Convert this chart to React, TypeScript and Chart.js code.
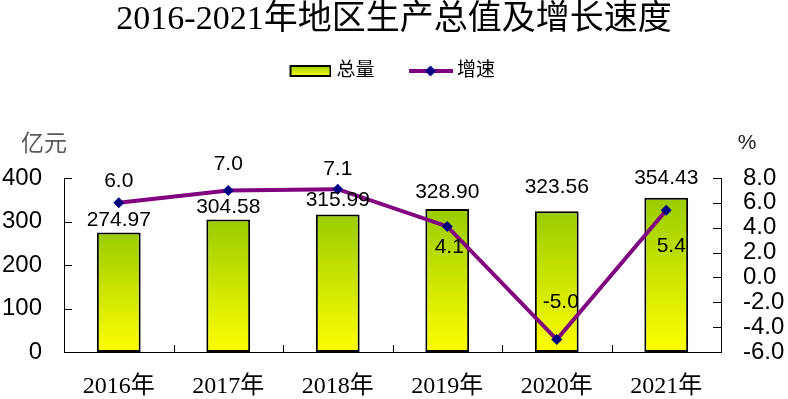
import React, { useEffect, useRef } from 'react';
import { Chart, registerables } from 'chart.js';

Chart.register(...registerables);

const titleText = '2016-2021年地区生产总值及增长速度';
const categories = ['2016年', '2017年', '2018年', '2019年', '2020年', '2021年'];
const totalValues = [274.97, 304.58, 315.99, 328.9, 323.56, 354.43];
const growthValues = [6.0, 7.0, 7.1, 4.1, -5.0, 5.4];
const seriesNames = ['总量', '增速'];
const leftUnit = '亿元';
const rightUnit = '%';
const leftTickValues = [0, 100, 200, 300, 400];
const rightTickValues = [-6, -4, -2, 0, 2, 4, 6, 8];

const CJK = '"Noto Sans CJK SC"';
const SERIF = `"Liberation Serif", ${CJK}, serif`;
const SANS = '"Liberation Sans", Arial, sans-serif';

function makeBarLegendImage() {
  const c = document.createElement('canvas');
  c.width = 43;
  c.height = 12;
  const g = c.getContext('2d')!;
  const grad = g.createLinearGradient(0, 0, 0, 12);
  grad.addColorStop(0, '#99CC00');
  grad.addColorStop(1, '#FFFF00');
  g.fillStyle = grad;
  g.fillRect(1, 0, 42, 12);
  g.strokeStyle = '#000';
  g.lineWidth = 2;
  g.strokeRect(2, 1, 40, 10);
  return c;
}

function makeLineLegendImage() {
  const c = document.createElement('canvas');
  c.width = 44;
  c.height = 12;
  const g = c.getContext('2d')!;
  g.strokeStyle = '#800080';
  g.lineWidth = 4;
  g.beginPath();
  g.moveTo(0, 6);
  g.lineTo(44, 6);
  g.stroke();
  g.fillStyle = '#000080';
  g.beginPath();
  g.moveTo(22, 0.5);
  g.lineTo(27.5, 6);
  g.lineTo(22, 11.5);
  g.lineTo(16.5, 6);
  g.closePath();
  g.fill();
  return c;
}

const decorPlugin = {
  id: 'decor',
  afterDatasetsDraw(chart: any, _args: any, opts: any) {
    const ctx = chart.ctx as CanvasRenderingContext2D;
    const { x, y, y1 } = chart.scales;
    const area = chart.chartArea;
    ctx.save();
    // inward tick marks
    ctx.strokeStyle = '#000';
    ctx.lineWidth = 1;
    ctx.beginPath();
    y.ticks.forEach((t: any) => {
      const py = Math.round(y.getPixelForValue(t.value)) + 0.5;
      ctx.moveTo(area.left, py);
      ctx.lineTo(area.left + 8, py);
    });
    y1.ticks.forEach((t: any) => {
      const py = Math.round(y1.getPixelForValue(t.value)) + 0.5;
      ctx.moveTo(area.right - 8, py);
      ctx.lineTo(area.right, py);
    });
    for (let i = 0; i <= categories.length; i++) {
      const px = Math.round(x.getPixelForValue(i - 0.5)) + 0.5;
      ctx.moveTo(px, area.bottom);
      ctx.lineTo(px, area.bottom - 7);
    }
    ctx.stroke();

    // data labels
    ctx.fillStyle = '#000';
    ctx.font = `21px ${SANS}`;
    ctx.textAlign = 'center';
    ctx.textBaseline = 'middle';
    chart.getDatasetMeta(0).data.forEach((el: any, i: number) => {
      ctx.fillText(totalValues[i].toFixed(2), el.x, el.y + opts.barLabelDy[i]);
    });
    chart.getDatasetMeta(1).data.forEach((el: any, i: number) => {
      const o = opts.lineLabelOffset[i];
      ctx.fillText(growthValues[i].toFixed(1), el.x + o[0], el.y + o[1]);
    });

    // axis units
    ctx.fillStyle = '#595959';
    ctx.font = `23px ${CJK}`;
    ctx.fillText(leftUnit, area.left - 20, area.top - 36);
    ctx.fillStyle = '#222';
    ctx.font = `21px ${SANS}`;
    ctx.fillText(rightUnit, area.right + 26, area.top - 35);
    ctx.restore();
  },
};

export default function App() {
  const ref = useRef<HTMLCanvasElement>(null);

  useEffect(() => {
    if (!ref.current) return;
    const barImg = makeBarLegendImage();
    const lineImg = makeLineLegendImage();

    const barFill = (c: any) => {
      const chart = c.chart;
      const ys = chart.scales?.y;
      if (!ys || c.raw == null) return '#CCE600';
      const top = ys.getPixelForValue(c.raw);
      const bottom = ys.getPixelForValue(0);
      if (!isFinite(top) || !isFinite(bottom) || top === bottom) return '#CCE600';
      const g = chart.ctx.createLinearGradient(0, top, 0, bottom);
      g.addColorStop(0, '#99CC00');
      g.addColorStop(1, '#FFFF00');
      return g;
    };

    const chart = new Chart(ref.current, {
      type: 'bar',
      data: {
        labels: categories,
        datasets: [
          {
            type: 'bar',
            label: seriesNames[0],
            data: totalValues,
            yAxisID: 'y',
            order: 2,
            backgroundColor: barFill,
            borderColor: '#000',
            borderWidth: 2,
            borderSkipped: false,
            categoryPercentage: 1,
            barPercentage: 0.4,
          } as any,
          {
            type: 'line',
            label: seriesNames[1],
            data: growthValues,
            yAxisID: 'y1',
            order: 1,
            borderColor: '#800080',
            borderWidth: 4,
            pointStyle: 'rectRot',
            pointRadius: 5.5,
            pointBackgroundColor: '#000080',
            pointBorderColor: '#000080',
            pointBorderWidth: 0,
            tension: 0,
            clip: false,
          } as any,
        ],
      },
      options: {
        responsive: false,
        animation: false,
        events: [],
        layout: { padding: 0 },
        scales: {
          x: {
            grid: { display: false, drawTicks: false, offset: true },
            border: { display: true, color: '#000', width: 1 },
            ticks: {
              color: '#000',
              font: { family: SERIF, size: 24 },
              padding: 20,
              maxRotation: 0,
              autoSkip: false,
            },
            afterFit: (s: any) => {
              s.height = 47;
            },
          },
          y: {
            position: 'left',
            min: leftTickValues[0],
            max: leftTickValues[leftTickValues.length - 1],
            grid: { display: false, drawTicks: false },
            border: { display: true, color: '#000', width: 1 },
            ticks: {
              stepSize: leftTickValues[1] - leftTickValues[0],
              autoSkip: false,
              color: '#000',
              font: { family: SANS, size: 24 },
              padding: 22,
              callback: (v: any) => String(v),
            },
            afterFit: (s: any) => {
              s.width = 64;
            },
          },
          y1: {
            position: 'right',
            min: rightTickValues[0],
            max: rightTickValues[rightTickValues.length - 1],
            grid: { display: false, drawTicks: false },
            border: { display: true, color: '#000', width: 1 },
            ticks: {
              stepSize: rightTickValues[1] - rightTickValues[0],
              autoSkip: false,
              color: '#000',
              font: { family: SANS, size: 24 },
              padding: 22,
              callback: (v: any) => Number(v).toFixed(1),
            },
            afterFit: (s: any) => {
              s.width = 67;
            },
          },
        },
        plugins: {
          tooltip: { enabled: false },
          title: {
            display: true,
            text: titleText,
            color: '#000',
            font: { family: SERIF, size: 34, weight: 'normal', lineHeight: 1 },
            padding: { top: 3, bottom: -14.5 },
          },
          legend: {
            display: true,
            position: 'top',
            labels: {
              usePointStyle: true,
              pointStyleWidth: 34,
              padding: 39,
              color: '#404040',
              font: { family: SERIF, size: 19 },
              generateLabels: () => [
                {
                  text: seriesNames[0],
                  pointStyle: barImg,
                  datasetIndex: 0,
                  fillStyle: 'transparent',
                  strokeStyle: 'transparent',
                  lineWidth: 0,
                  hidden: false,
                },
                {
                  text: seriesNames[1],
                  pointStyle: lineImg,
                  datasetIndex: 1,
                  fillStyle: 'transparent',
                  strokeStyle: 'transparent',
                  lineWidth: 0,
                  hidden: false,
                },
              ],
            },
          },
          subtitle: {
            display: true,
            text: '',
            weight: 500,
            font: { size: 10, lineHeight: 1 },
            padding: { top: 77.5, bottom: 0 },
          },
          decor: {
            barLabelDy: [-12, -12, -14, -17, -24, -20],
            lineLabelOffset: [
              [0, -22],
              [0, -26],
              [0, -20],
              [2, 21],
              [4, -37],
              [5, 36],
            ],
          },
        } as any,
      },
      plugins: [decorPlugin],
    });

    return () => chart.destroy();
  }, []);

  return (
    <div style={{ position: 'absolute', left: 0, top: 0, width: 788, height: 399, background: '#fff' }}>
      <canvas ref={ref} width={788} height={399} />
    </div>
  );
}
